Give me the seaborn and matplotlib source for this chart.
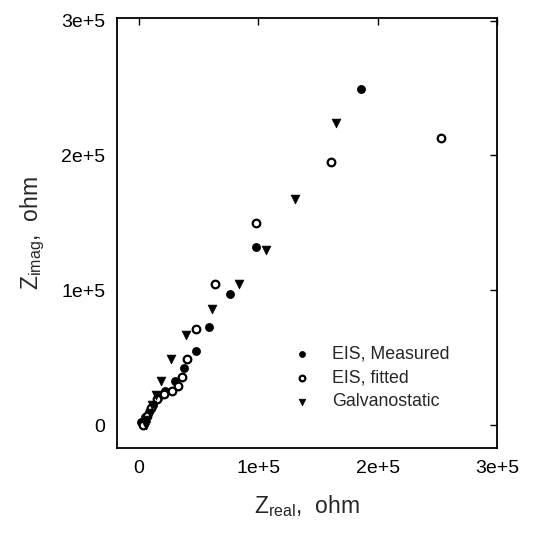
import matplotlib
matplotlib.use("Agg")
import matplotlib.pyplot as plt
import seaborn as sns
import pandas as pd

measured_x = [186000, 98000, 76000, 59000, 48000, 38000, 30000, 22000, 16000, 12000, 8000, 5000, 2000]
measured_y = [249000, 132000, 97000, 73000, 55000, 42000, 33000, 25000, 20000, 15000, 10000, 6000, 2000]

fitted_x = [253000, 161000, 98000, 64000, 48000, 40000, 36000, 33000, 28000, 21000, 15000, 10000, 7000, 3000]
fitted_y = [213000, 195000, 150000, 105000, 71000, 49000, 36000, 29000, 25000, 23000, 19000, 13000, 7000, 0]

galv_x = [165000, 131000, 106000, 84000, 61000, 39000, 27000, 18000, 14000, 11000, 9000, 7000, 6000]
galv_y = [224000, 168000, 130000, 105000, 86000, 67000, 49000, 33000, 22000, 15000, 9000, 4000, 0]

x_ticks = [0, 100000, 200000, 300000]
x_tick_labels = ["0", "1e+5", "2e+5", "3e+5"]
y_ticks = [0, 100000, 200000, 300000]
y_tick_labels = ["0", "1e+5", "2e+5", "3e+5"]

sns.set_style("white")
plt.rcParams['font.family'] = ['Liberation Sans', 'DejaVu Sans']
plt.rcParams['mathtext.fontset'] = 'custom'
plt.rcParams['mathtext.rm'] = 'Liberation Sans'

fig = plt.figure(figsize=(5.33, 5.36), dpi=100)
ax = fig.add_axes([117/533, 1 - 448/536, (497-117)/533, (448-18)/536])

df_m = pd.DataFrame({"x": measured_x, "y": measured_y})
df_f = pd.DataFrame({"x": fitted_x, "y": fitted_y})
df_g = pd.DataFrame({"x": galv_x, "y": galv_y})

sns.scatterplot(data=df_m, x="x", y="y", ax=ax, marker="o", s=34, color="black",
                edgecolor="black", linewidth=0.5, label="EIS, Measured", zorder=3)
sns.scatterplot(data=df_f, x="x", y="y", ax=ax, marker="o", s=30, facecolor="white",
                edgecolor="black", linewidth=1.6, label="EIS, fitted", zorder=3)
sns.scatterplot(data=df_g, x="x", y="y", ax=ax, marker="v", s=40, color="black",
                edgecolor="black", linewidth=0.5, label="Galvanostatic", zorder=3)

ax.set_xlim(-18500, 300000)
ax.set_ylim(-17000, 302000)
ax.set_xticks(x_ticks)
ax.set_xticklabels(x_tick_labels)
ax.set_yticks(y_ticks)
ax.set_yticklabels(y_tick_labels)
ax.tick_params(direction="in", length=5, width=1, labelsize=14, top=True, right=True,
               pad=8.5, colors="black")
for sp in ax.spines.values():
    sp.set_linewidth(1.3)
    sp.set_color("black")

ax.set_xlabel(r"Z$_{\mathregular{real}}$,  ohm", fontsize=16.5, labelpad=12)
ax.set_ylabel(r"Z$_{\mathregular{imag}}$,  ohm", fontsize=16.5, labelpad=10)

leg = ax.legend(loc="upper left", frameon=False, fontsize=12.8, handletextpad=1.2,
                handlelength=1.0, labelspacing=0.4, markerscale=0.75,
                bbox_to_anchor=(0.463, 0.239), borderpad=0, borderaxespad=0)

fig.savefig("out.png", dpi=100)
